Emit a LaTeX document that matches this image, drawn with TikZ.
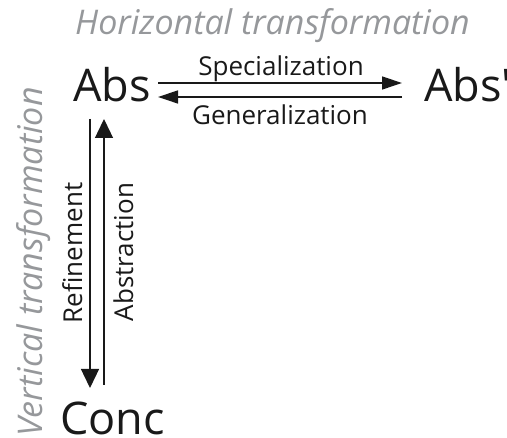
\documentclass[tikz,border=0pt]{standalone}
\usepackage{fontspec}
\setmainfont{Open Sans}
\usetikzlibrary{arrows.meta}
\definecolor{titlegray}{RGB}{150,152,155}
\definecolor{ink}{RGB}{25,25,25}
\begin{document}
\begin{tikzpicture}[x=1pt,y=-1pt,
  big/.style={inner sep=0pt,font=\fontsize{45}{50}\selectfont,text=ink},
  lab/.style={inner sep=0pt,font=\fontsize{26}{30}\selectfont,text=ink},
  ttl/.style={inner sep=0pt,font=\fontsize{34}{38}\selectfont\itshape,text=titlegray},
  harr/.style={draw=ink,line width=1.3pt,-{Triangle[length=20pt,width=13pt]}},
  varr/.style={draw=ink,line width=1.3pt,-{Triangle[length=19pt,width=18pt]}}]
\useasboundingbox (0,0) rectangle (507,438);
\node[ttl,anchor=base west] (ht) at (75,35) {Horizontal transformation};
\node[ttl,anchor=base west,rotate=90] (vt) at (42,437) {Vertical transformation};
\node[big,anchor=base west] (abs) at (73,102) {Abs};
\node[big,anchor=base west] (absp) at (424,102) {Abs\textquotesingle};
\node[big,anchor=base west] (conc) at (60,435) {Conc};
\coordinate (s1) at (158,83); \coordinate (s2) at (402,83);
\coordinate (g1) at (402,97); \coordinate (g2) at (158,97);
\coordinate (r1) at (90,119); \coordinate (r2) at (90,388);
\coordinate (a1) at (104,385); \coordinate (a2) at (104,119);
\draw[harr] (s1) -- (s2);
\draw[harr] (g1) -- (g2);
\draw[varr] (r1) -- (r2);
\draw[varr] (a1) -- (a2);
\node[lab,anchor=base] (spec) at (281,76) {Specialization};
\node[lab,anchor=base] (gen) at (280,125) {Generalization};
\node[lab,anchor=base,rotate=90] (ref) at (82,253) {Refinement};
\node[lab,anchor=base,rotate=90] (abst) at (133,252) {Abstraction};
\end{tikzpicture}
\end{document}
